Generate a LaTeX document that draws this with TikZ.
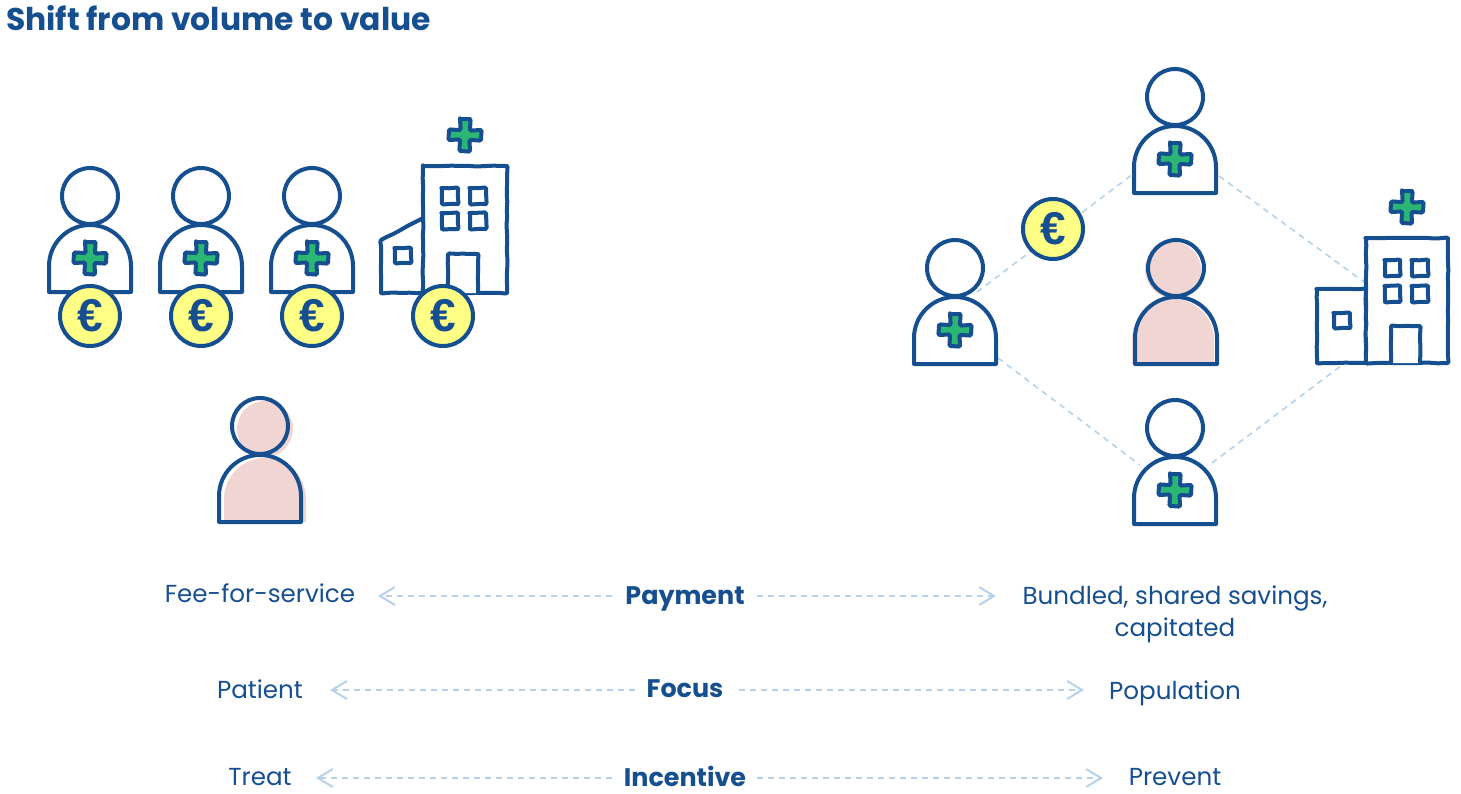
\documentclass[tikz,border=0pt]{standalone}
\usepackage{fontspec}
\setmainfont{Poppins}
\newfontfamily\eurofont{Liberation Sans}
\usetikzlibrary{arrows.meta,decorations.pathmorphing}
\definecolor{navy}{HTML}{164F90}
\definecolor{grn}{HTML}{2BB673}
\definecolor{coin}{HTML}{FFFF85}
\definecolor{pinkf}{HTML}{F1D5D2}
\definecolor{dash}{HTML}{B7D2E8}
\pgfmathsetseed{7}
\tikzset{
  x=1pt,y=-1pt,
  ink/.style={draw=navy,line width=4pt,line join=round,line cap=round},
  rough/.style={ink,decorate,decoration={random steps,segment length=7pt,amplitude=.35pt},rounded corners=1.2pt},
  lbl/.style={text=navy,font=\fontsize{24.6}{32}\selectfont,inner sep=0pt,text height=16pt,text depth=0pt,align=center},
  lblb/.style={lbl,font=\fontsize{25.4}{32}\selectfont\bfseries},
  link/.style={draw=dash,line width=1.6pt,dash pattern=on 6pt off 5pt},
  arr/.style={link,-{Straight Barb[length=15pt,width=18pt,line width=2pt]}},
  pics/plus/.style={code={
    \path[fill=grn,rough] (-5,-16) -- (5,-16) -- (5,-5) -- (16,-5) -- (16,5) -- (5,5) -- (5,16) -- (-5,16) -- (-5,5) -- (-16,5) -- (-16,-5) -- (-5,-5) -- cycle;}},
  pics/person/.style={code={
    \path[fill=white,ink] (0,0) circle[radius=28];
    \path[fill=white,ink] (-41,96) -- (-41,70) arc[start angle=180,end angle=360,radius=41] -- (41,96) -- cycle;
  }},
  pics/doctor/.style={code={
    \pic {person};
    \pic at (0,62) {plus};
  }},
  pics/patient/.style 2 args={code={
    \fill[pinkf] (#1,#2) circle[radius=28];
    \fill[pinkf] ({#1-41},96) -- ({#1-41},{70+#2}) arc[start angle=180,end angle=360,radius=41] -- ({#1+41},96) -- cycle;
    \path[ink] (0,0) circle[radius=28];
    \path[ink] (-41,96) -- (-41,70) arc[start angle=180,end angle=360,radius=41] -- (41,96) -- cycle;
  }},
  pics/euro/.style={code={
    \node[circle,fill=coin,draw=navy,line width=4pt,minimum size=60pt,inner sep=0pt,text=navy,font=\eurofont\fontsize{46}{46}\selectfont\bfseries] (#1) at (0,0) {€};
  }},
  win/.style={rough,fill=white}
}
\begin{document}
\begin{tikzpicture}
\useasboundingbox (0,0) rectangle (1461,793);
% title
\node[anchor=west,text=navy,inner sep=0pt,font=\fontsize{31.4}{36}\selectfont\bfseries] (title) at (6,18) {Shift from volume to value};

% left group
\pic at (90,196) {doctor};
\pic at (201,196) {doctor};
\pic at (312,196) {doctor};
% left hospital
\path[fill=white,rough] (423,218) -- (381,240) -- (381,293) -- (423,293);
\path[fill=white,rough] (423,166) -- (507,166) -- (507,293) -- (423,293) -- cycle;
\path[win] (442,188) rectangle (458,204);
\path[win] (470,188) rectangle (486,204);
\path[win] (442,213) rectangle (458,229);
\path[win] (470,213) rectangle (486,229);
\path[win] (395,248) rectangle (411,263);
\path[win] (448,293) -- (448,254) -- (478,254) -- (478,293);
\pic at (465,135) {plus};
\pic at (90,316) {euro=coinA};
\pic at (201,316) {euro=coinB};
\pic at (312,316) {euro=coinC};
\pic at (443,316) {euro=coinD};
\pic at (260,426) {patient={5}{3}};

% right group connectors
\coordinate (a1) at (977,292);
\coordinate (a2) at (1133,174);
\coordinate (b1) at (1219,176);
\coordinate (b2) at (1364,282);
\coordinate (c1) at (998,358);
\coordinate (c2) at (1140,465);
\coordinate (d1) at (1212,463);
\coordinate (d2) at (1342,365);
\draw[link] (a1) -- (a2);
\draw[link] (b1) -- (b2);
\draw[link] (c1) -- (c2);
\draw[link] (d1) -- (d2);
\pic at (1175,97) {doctor};
\pic at (955,268) {doctor};
\pic at (1175,428) {doctor};
\pic at (1053,229) {euro=coinE};
\pic at (1176,268) {patient={-3}{2}};
% right hospital
\path[fill=white,rough] (1317,289) rectangle (1366,363);
\path[fill=white,rough] (1366,238) rectangle (1448,363);
\path[win] (1385,260) rectangle (1400,276);
\path[win] (1412,260) rectangle (1428,276);
\path[win] (1385,286) rectangle (1400,302);
\path[win] (1412,286) rectangle (1428,302);
\path[win] (1334,313) rectangle (1350,328);
\path[win] (1391,363) -- (1391,326) -- (1420,326) -- (1420,363);
\pic at (1407,207) {plus};

% text rows
\node[lbl] (fee) at (260,594) {Fee-for-service};
\node[lbl] (bundled) at (1175,628) {Bundled, shared savings,\\capitated};
\node[lblb] (payment) at (685,596) {Payment};
\node[lbl] (patient) at (260,690) {Patient};
\node[lbl] (population) at (1175,691) {Population};
\node[lblb] (focus) at (685,689) {Focus};
\node[lbl] (treat) at (260,777) {Treat};
\node[lbl] (prevent) at (1175,777) {Prevent};
\node[lblb] (incentive) at (685,778) {Incentive};
\coordinate (pl) at (378,596);
\coordinate (pr) at (996,596);
\coordinate (fl) at (330,690);
\coordinate (fr) at (1084,690);
\coordinate (il) at (316,778);
\coordinate (ir) at (1103,778);
\coordinate (pa) at (612,596);
\coordinate (pb) at (757,596);
\coordinate (fa) at (635,690);
\coordinate (fb) at (739,690);
\coordinate (ia) at (612,778);
\coordinate (ib) at (757,778);
\draw[arr] (pa) -- (pl);
\draw[arr] (pb) -- (pr);
\draw[arr] (fa) -- (fl);
\draw[arr] (fb) -- (fr);
\draw[arr] (ia) -- (il);
\draw[arr] (ib) -- (ir);
\end{tikzpicture}
\end{document}
